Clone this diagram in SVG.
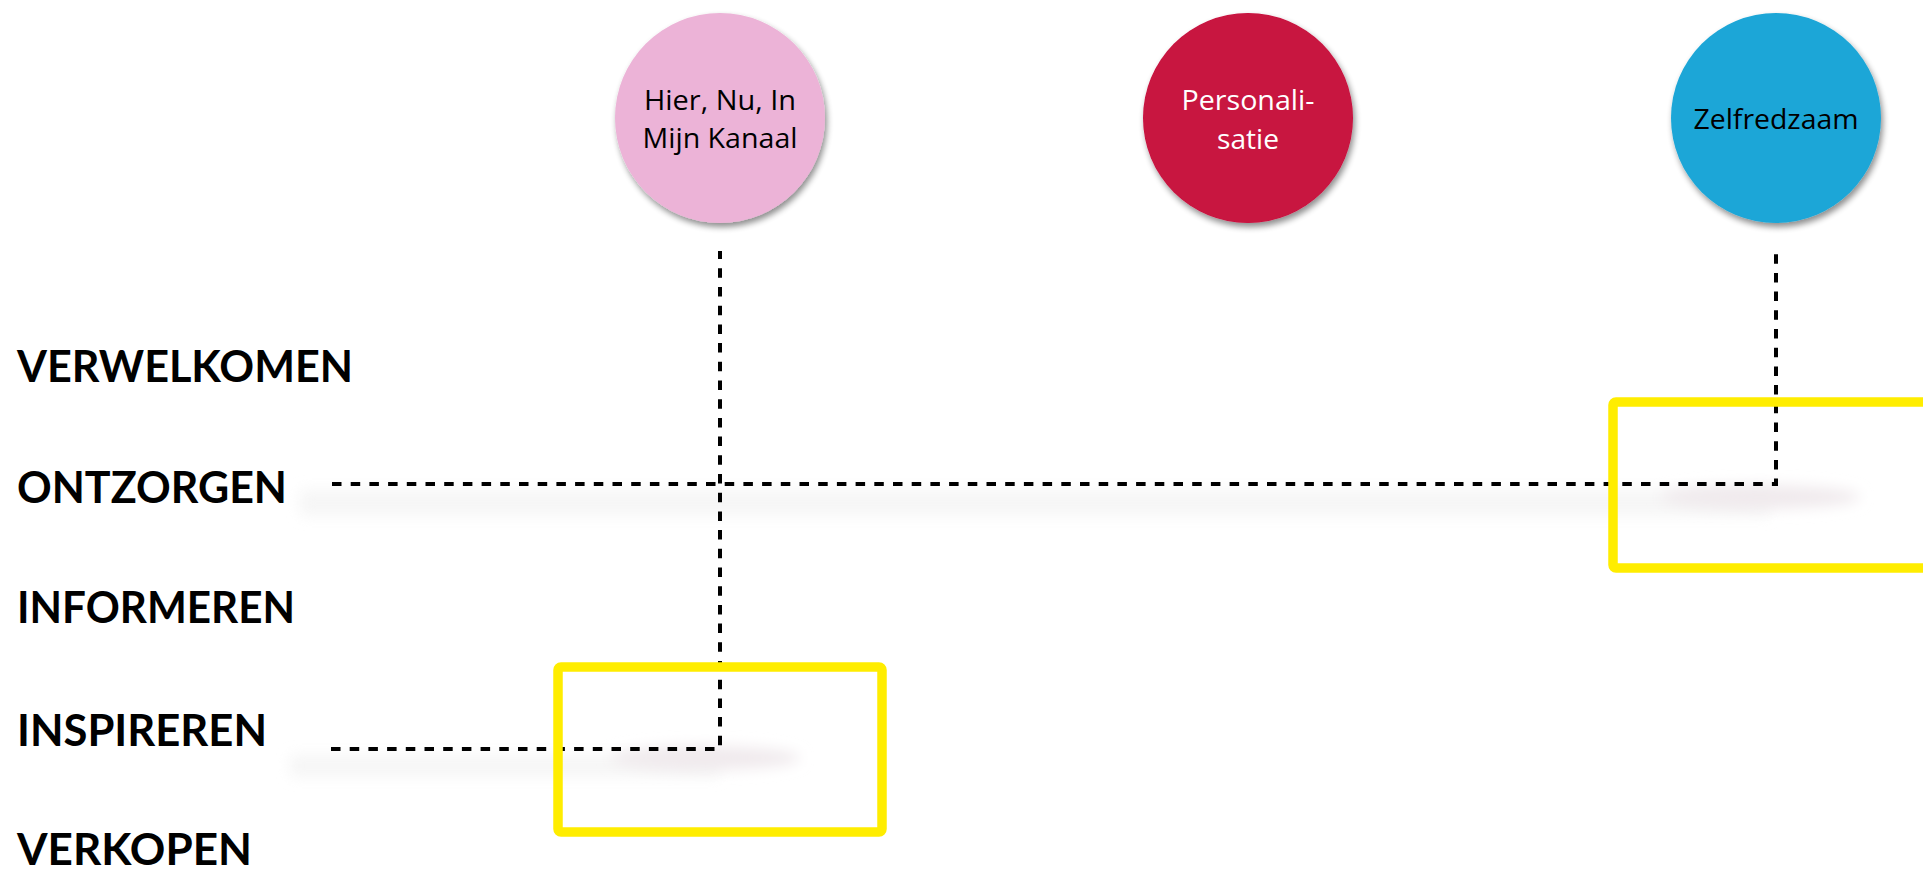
<svg xmlns="http://www.w3.org/2000/svg" width="1923" height="872" viewBox="0 0 1923 872">
<defs>
<style>
.lbl{font-family:"Lato","Liberation Sans",sans-serif;font-weight:700;font-size:44px;fill:#000}
.ct{font-family:"Open Sans","Noto Sans",sans-serif;font-weight:400;font-size:27px;text-anchor:middle}
.dash{fill:none;stroke:#000;stroke-width:4;stroke-dasharray:9.5 9.2}
.ybox{fill:none;stroke:#FFED00;stroke-width:9.5;stroke-linejoin:round}
</style>
<filter id="sh" x="-20%" y="-20%" width="140%" height="150%">
<feGaussianBlur in="SourceAlpha" stdDeviation="3"/>
<feOffset dx="2" dy="4" result="b"/>
<feComponentTransfer><feFuncA type="linear" slope="0.45"/></feComponentTransfer>
<feMerge><feMergeNode/><feMergeNode in="SourceGraphic"/></feMerge>
</filter>
<filter id="blur" x="-20%" y="-200%" width="140%" height="500%">
<feGaussianBlur stdDeviation="7"/>
</filter>
</defs>
<rect width="1923" height="872" fill="#fff"/>

<g id="shadows">
<rect x="300" y="490" width="1470" height="26" fill="#ededed" filter="url(#blur)" opacity="0.5"/>
<ellipse cx="1760" cy="497" rx="100" ry="12" fill="#f0eaed" filter="url(#blur)"/>
<rect x="290" y="755" width="430" height="22" fill="#ededed" filter="url(#blur)" opacity="0.5"/>
<ellipse cx="705" cy="758" rx="95" ry="12" fill="#f0eaed" filter="url(#blur)"/>
</g>

<g id="labels">
<text class="lbl" x="17" y="382" textLength="336" lengthAdjust="spacingAndGlyphs">VERWELKOMEN</text>
<text class="lbl" x="17" y="503" textLength="270" lengthAdjust="spacingAndGlyphs">ONTZORGEN</text>
<text class="lbl" x="17" y="623" textLength="278" lengthAdjust="spacingAndGlyphs">INFORMEREN</text>
<text class="lbl" x="17" y="746" textLength="250" lengthAdjust="spacingAndGlyphs">INSPIREREN</text>
<text class="lbl" x="17" y="865" textLength="235" lengthAdjust="spacingAndGlyphs">VERKOPEN</text>
</g>

<g id="connectors">
<path class="dash" d="M332 484 H1776 V251"/>
<path class="dash" d="M331 749 H720 V251"/>
</g>

<g id="node-hier">
<circle cx="720" cy="118" r="105" fill="#ECB3D7" filter="url(#sh)"/>
<text class="ct" x="720" y="110" fill="#000" textLength="152" lengthAdjust="spacingAndGlyphs">Hier, Nu, In</text>
<text class="ct" x="720" y="148" fill="#000" textLength="155" lengthAdjust="spacingAndGlyphs">Mijn Kanaal</text>
</g>
<g id="node-personalisatie">
<circle cx="1248" cy="118" r="105" fill="#C8123F" filter="url(#sh)"/>
<text class="ct" x="1248" y="110" fill="#fff" textLength="133" lengthAdjust="spacingAndGlyphs">Personali-</text>
<text class="ct" x="1248" y="149" fill="#fff" textLength="62" lengthAdjust="spacingAndGlyphs">satie</text>
</g>
<g id="node-zelfredzaam">
<circle cx="1776" cy="118" r="105" fill="#1BA6D7" filter="url(#sh)"/>
<text class="ct" x="1776" y="129" fill="#000" textLength="165" lengthAdjust="spacingAndGlyphs">Zelfredzaam</text>
</g>

<g id="highlights">
<rect class="ybox" x="558" y="667" width="324" height="165" rx="3"/>
<rect class="ybox" x="1613" y="402" width="340" height="166" rx="3"/>
</g>
</svg>
